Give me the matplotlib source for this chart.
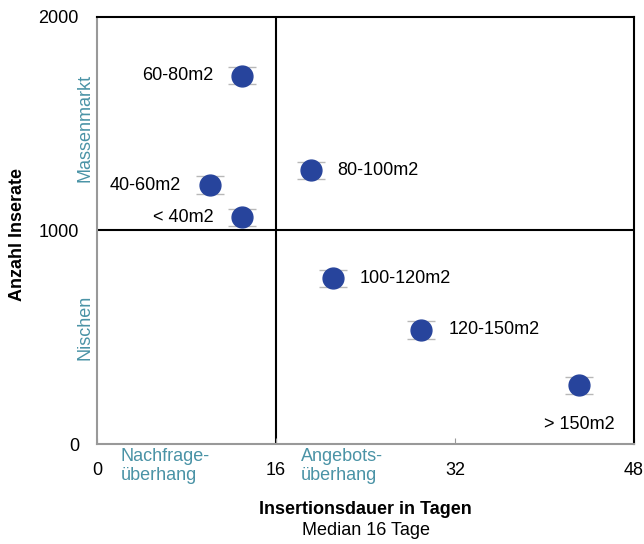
import matplotlib.pyplot as plt
import numpy as np

# Wohnungsgroessen: Insertionsdauer (Tage) vs. Anzahl Inserate
labels = ["< 40m2", "40-60m2", "60-80m2", "80-100m2", "100-120m2", "120-150m2", "> 150m2"]
dauer = [13.0, 10.1, 13.0, 19.1, 21.1, 29.0, 43.1]
anzahl = [1063, 1213, 1724, 1283, 777, 534, 276]

x_ticks = [0, 16, 32, 48]
y_ticks = [0, 1000, 2000]
median_x = 16
median_y = 1000

teal = "#4a93a6"
blue = "#27449c"

plt.rcParams['font.family'] = ['Liberation Sans', 'DejaVu Sans']
fs = 13

fig = plt.figure(figsize=(6.44, 5.44), dpi=100)
ax = fig.add_axes([0.1506, 0.1838, 0.8339, 0.785])

ax.errorbar(dauer, anzahl, yerr=40, fmt='o', color=blue, markersize=15,
            ecolor='#b8b8b8', elinewidth=0, capsize=10, capthick=1, zorder=3)

ax.axvline(median_x, color='black', lw=1.5, zorder=1)
ax.axhline(median_y, color='black', lw=1.5, zorder=1)

ax.set_xlim(0, 48)
ax.set_ylim(0, 2000)
ax.set_xticks(x_ticks)
ax.set_yticks(y_ticks)
ax.tick_params(axis='x', direction='in', length=4, color='#999999', labelsize=fs, pad=13)
ax.tick_params(axis='y', length=0, labelsize=fs, pad=13)

ax.spines['left'].set_color('#999999')
ax.spines['bottom'].set_color('#999999')
for s in ax.spines.values():
    s.set_linewidth(1.5)

# point labels (offset in pixels)
offsets = {
    "< 40m2": (-29, 0, 'right'),
    "40-60m2": (-29, 0, 'right'),
    "60-80m2": (-29, 0, 'right'),
    "80-100m2": (27, 0, 'left'),
    "100-120m2": (27, 0, 'left'),
    "120-150m2": (27, 0, 'left'),
    "> 150m2": (-35, -39, 'left'),
}
for lab, x, y in zip(labels, dauer, anzahl):
    dx, dy, ha = offsets[lab]
    ax.annotate(lab, (x, y), xytext=(dx, dy), textcoords='offset pixels',
                ha=ha, va='center', fontsize=fs)

ax.set_ylabel("Anzahl Inserate", fontsize=fs, fontweight='bold')
ax.yaxis.set_label_coords(-0.132, 0.49)
ax.set_xlabel("Insertionsdauer in Tagen", fontsize=fs, fontweight='bold')
ax.xaxis.set_label_coords(0.5, -0.134)

fig.text(0.132, 0.765, "Massenmarkt", rotation=90, color=teal, fontsize=fs, ha='center', va='center')
fig.text(0.132, 0.399, "Nischen", rotation=90, color=teal, fontsize=fs, ha='center', va='center')
fig.text(0.187, 0.177, "Nachfrage-\nüberhang", color=teal, fontsize=fs, ha='left', va='top', linespacing=1.15)
fig.text(0.467, 0.177, "Angebots-\nüberhang", color=teal, fontsize=fs, ha='left', va='top', linespacing=1.15)
fig.text(0.568, 0.024, "Median 16 Tage", fontsize=fs, ha='center', va='center')

plt.savefig("out.png", dpi=100)
